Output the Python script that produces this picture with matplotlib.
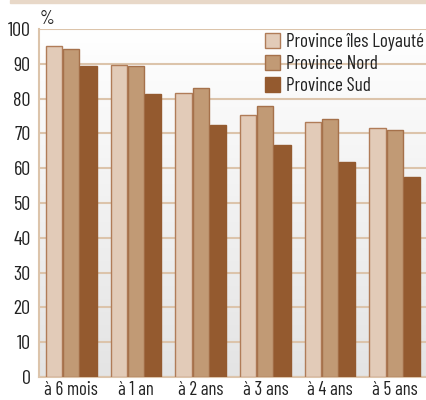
import numpy as np
import matplotlib
matplotlib.use("Agg")
import matplotlib.pyplot as plt
from matplotlib.patches import Rectangle

# Data
categories = ["à 6 mois", "à 1 an", "à 2 ans", "à 3 ans", "à 4 ans", "à 5 ans"]
series_names = ["Province îles Loyauté", "Province Nord", "Province Sud"]
loyaute = [95.0, 89.7, 81.6, 75.4, 73.4, 71.6]
nord = [94.3, 89.4, 83.0, 77.8, 74.1, 70.9]
sud = [89.3, 81.3, 72.4, 66.8, 61.8, 57.5]
y_ticks = [0, 10, 20, 30, 40, 50, 60, 70, 80, 90, 100]

colors = ["#e2cbb8", "#c19a75", "#945a2f"]
edges = ["#b07c58", "#a5714b", "#945a2f"]
grid_color = "#dcc4ab"

plt.rcParams['font.family'] = ['Barlow Condensed', 'DejaVu Sans']


def main():
    fig = plt.figure(figsize=(4.26, 4.0), dpi=100)
    ax = fig.add_axes([39 / 426, 1 - 377 / 400, 388 / 426, 348 / 400])

    # top decorative band
    fig.patches.append(Rectangle((10 / 426, 1 - 3 / 400), 1, 3 / 400,
                                 transform=fig.transFigure,
                                 color="#e8d8c8", zorder=0))

    # gradient background
    grad = np.linspace(1.0, 0.0, 256).reshape(-1, 1)
    cmap = matplotlib.colors.LinearSegmentedColormap.from_list(
        "bg", ["#e4e4e4", "#ffffff"])
    ax.imshow(grad, extent=[-0.5, 5.5, 0, 100], aspect="auto",
              cmap=cmap, origin="upper", zorder=0)

    x = np.arange(len(categories))
    width = 0.25
    step = 0.265
    for i, (vals, name) in enumerate(zip([loyaute, nord, sud], series_names)):
        ax.bar(x + (i - 1) * step, vals, width, color=colors[i],
               edgecolor=edges[i], linewidth=1, label=name, zorder=3)

    ax.set_xlim(-0.5, 5.5)
    ax.set_ylim(0, 100)
    ax.set_yticks(y_ticks)
    ax.set_xticks(x)
    ax.set_xticklabels(categories, fontsize=13.5, color="#222222")
    ax.tick_params(axis="y", length=0, pad=6, labelsize=14.5, labelcolor="#222222")
    ax.tick_params(axis="x", length=0, pad=3)
    ax.yaxis.grid(True, color=grid_color, linewidth=1.5, zorder=1)
    ax.set_axisbelow(True)
    for side in ["top", "right"]:
        ax.spines[side].set_visible(False)
    ax.spines["left"].set_color(grid_color)
    ax.spines["left"].set_linewidth(1.5)
    ax.spines["bottom"].set_color(grid_color)
    ax.spines["bottom"].set_linewidth(1.5)

    leg = ax.legend(loc="upper left", bbox_to_anchor=(226 / 388, 0.988),
                    frameon=False, fontsize=13.8, handlelength=0.8,
                    handleheight=0.8, handletextpad=0.32, labelspacing=0.2,
                    borderaxespad=0, borderpad=0)
    for t in leg.get_texts():
        t.set_color("#222222")

    fig.text(40 / 426, 1 - 24 / 400, "%", fontsize=13.5, color="#222222")

    fig.savefig("out.png", dpi=100)


if __name__ == "__main__":
    main()
